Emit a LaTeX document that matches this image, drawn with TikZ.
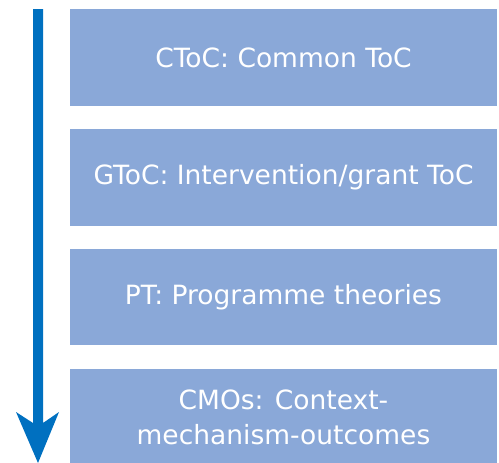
\documentclass[tikz,border=0pt]{standalone}
\usepackage{fontspec}
\setmainfont{DejaVu Sans}
\definecolor{boxblue}{HTML}{8AA8D8}
\definecolor{arrowblue}{HTML}{0070C0}
\begin{document}
\begin{tikzpicture}[x=1pt,y=-1pt,
  stagebox/.style={fill=boxblue,draw=none,text=white,align=center,
    font=\fontsize{26.5}{35}\selectfont,inner sep=0pt}]
\useasboundingbox (0,0) rectangle (499,463);
\fill[boxblue] (70,9) rectangle (497,106);
\node[stagebox] (b1) at (283.5,57.5) {CToC: Common ToC};
\fill[boxblue] (70,129) rectangle (497,226);
\node[stagebox] (b2) at (283.5,177) {GToC: Intervention/grant ToC};
\fill[boxblue] (70,249) rectangle (497,345);
\node[stagebox] (b3) at (283.5,297) {PT: Programme theories};
\fill[boxblue] (70,369) rectangle (497,463);
\node[stagebox] (b4) at (283.5,417) {CMOs: Context-\\mechanism-outcomes};
\fill[arrowblue] (33,9) -- (43,9) -- (43,423) -- (59,412) -- (38,463) -- (16,412) -- (33,423) -- cycle;
\end{tikzpicture}
\end{document}
